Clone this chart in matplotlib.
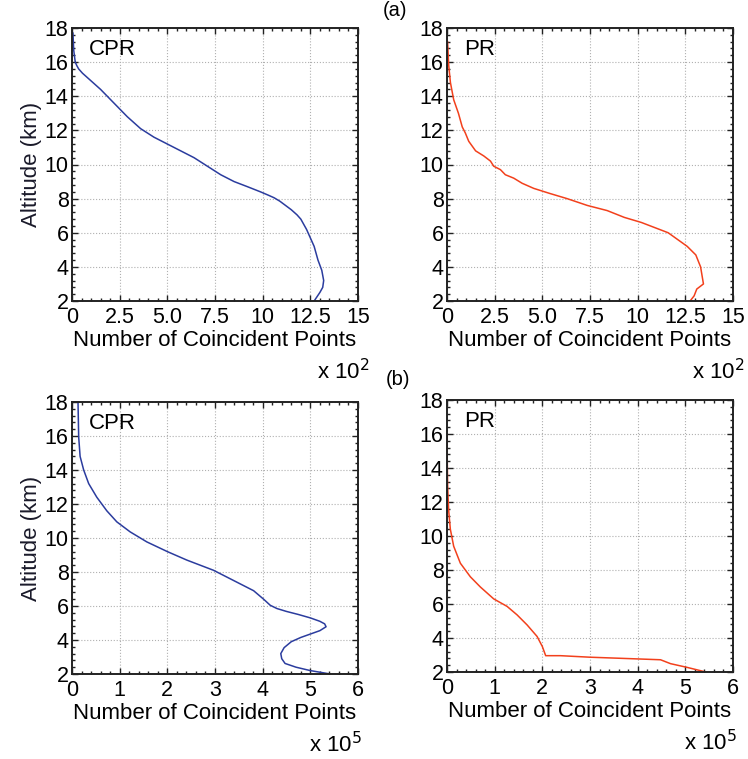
import matplotlib
matplotlib.use("Agg")
import matplotlib.pyplot as plt
from matplotlib.ticker import AutoMinorLocator, MultipleLocator

plt.rcParams['font.family'] = ['Liberation Sans', 'DejaVu Sans']

# ---- data (x in units shown on axis, y altitude km) ----
cpr_a_x = [0.05, 0.09, 0.17, 0.25, 0.35, 0.55, 0.8, 1.1, 1.5, 1.85, 2.2, 2.9, 3.6, 4.3, 5.0,
           5.7, 6.4, 7.1, 7.8, 8.5, 9.2, 9.88, 10.3, 10.6, 10.9, 11.2, 11.5, 11.8, 12.0, 12.15,
           12.3, 12.5, 12.7, 12.9, 13.1, 13.2, 13.15, 13.0, 12.7]
cpr_a_y = [17.7, 16.7, 16.0, 15.8, 15.6, 15.35, 15.1, 14.8, 14.4, 14.0, 13.6, 12.8, 12.1, 11.6, 11.2,
           10.8, 10.4, 9.9, 9.4, 9.0, 8.7, 8.4, 8.2, 8.05, 7.85, 7.6, 7.35, 7.05, 6.8, 6.5,
           6.2, 5.7, 5.2, 4.4, 3.8, 3.2, 2.8, 2.5, 2.0]

pr_a_x = [0.03, 0.09, 0.18, 0.35, 0.6, 0.8, 0.96, 1.14, 1.5, 1.93, 2.28, 2.45, 2.8, 3.06, 3.5,
          3.94, 4.55, 5.4, 6.3, 7.36, 8.4, 9.3, 10.2, 10.9, 11.6, 12.1, 12.6, 13.05, 13.3, 13.45,
          13.1, 12.96, 12.75]
pr_a_y = [17.2, 15.8, 14.8, 13.8, 13.0, 12.2, 11.85, 11.36, 10.8, 10.5, 10.2, 9.9, 9.7, 9.4, 9.2,
          8.9, 8.6, 8.3, 8.0, 7.6, 7.3, 6.9, 6.6, 6.3, 6.0, 5.6, 5.2, 4.7, 4.0, 3.0,
          2.7, 2.3, 2.0]

cpr_b_x = [0.126, 0.14, 0.17, 0.245, 0.35, 0.52, 0.73, 0.94, 1.22, 1.57, 2.0, 2.41, 2.97, 3.39,
           3.81, 4.02, 4.16, 4.3, 4.5, 4.75, 5.0, 5.2, 5.3, 5.33, 5.2, 5.0, 4.8, 4.6, 4.45,
           4.38, 4.4, 4.47, 4.7, 5.0, 5.42]
cpr_b_y = [18.0, 15.95, 14.8, 14.0, 13.2, 12.4, 11.6, 10.95, 10.36, 9.77, 9.2, 8.7, 8.1, 7.5,
           6.9, 6.4, 6.04, 5.85, 5.68, 5.5, 5.3, 5.1, 4.95, 4.78, 4.55, 4.35, 4.15, 3.9, 3.55,
           3.2, 2.9, 2.62, 2.4, 2.2, 2.0]

pr_b_x = [0.0, 0.005, 0.014, 0.035, 0.07, 0.14, 0.28, 0.49, 0.7, 0.98, 1.26, 1.47, 1.68, 1.89,
          2.0, 2.07, 2.38, 3.0, 3.7, 4.48, 4.69, 5.04, 5.43]
pr_b_y = [16.0, 14.5, 12.9, 11.5, 10.4, 9.4, 8.4, 7.6, 7.0, 6.3, 5.86, 5.36, 4.77, 4.09,
          3.5, 2.96, 2.96, 2.87, 2.8, 2.72, 2.49, 2.27, 2.0]

xticks_a = [0, 2.5, 5, 7.5, 10, 12.5, 15]
xticklabels_a = ['0', '2.5', '5.0', '7.5', '10', '12.5', '15']

blue = '#2b3c9e'
red = '#f2401c'

fig = plt.figure(figsize=(7.48, 7.59), dpi=100)

W = 286 / 748
specs = [
    (72 / 748, 1 - 301 / 759, 273 / 759, 15, 'a', cpr_a_x, cpr_a_y, blue, 'CPR', True, '2'),
    (447 / 748, 1 - 301 / 759, 273 / 759, 15, 'a', pr_a_x, pr_a_y, red, 'PR', False, '2'),
    (72 / 748, 1 - 674 / 759, 272 / 759, 6, 'b', cpr_b_x, cpr_b_y, blue, 'CPR', True, '5'),
    (447 / 748, 1 - 672 / 759, 272 / 759, 6, 'b', pr_b_x, pr_b_y, red, 'PR', False, '5'),
]

for (l, b, h, xmax, grp, xs, ys, col, lab, ylab, ex) in specs:
    ax = fig.add_axes([l, b, W, h])
    ax.plot(xs, ys, color=col, lw=1.1, solid_joinstyle='round')
    ax.set_xlim(0, xmax)
    ax.set_ylim(2, 18)
    if grp == 'a':
        ax.set_xticks(xticks_a)
        ax.set_xticklabels(xticklabels_a)
    else:
        ax.xaxis.set_major_locator(MultipleLocator(1))
    ax.yaxis.set_major_locator(MultipleLocator(2))
    ax.xaxis.set_minor_locator(AutoMinorLocator(5))
    ax.yaxis.set_minor_locator(AutoMinorLocator(5))
    ax.grid(True, which='major', color='#b0b0b0', ls=':', lw=0.8)
    ax.tick_params(which='both', direction='in', top=True, right=True, labelsize=15.5,
                   width=1.0, color='#222222')
    ax.tick_params(axis='x', which='major', length=4, pad=4)
    ax.tick_params(axis='y', which='major', length=4, pad=2.5)
    ax.tick_params(which='minor', length=2.5)
    for s in ax.spines.values():
        s.set_linewidth(1.4)
        s.set_color('#222222')
    ax.set_xlabel('Number of Coincident Points', fontsize=16, labelpad=2)
    if ylab:
        ax.set_ylabel('Altitude (km)', fontsize=16, labelpad=2, color='#1a1a2a')
    ax.text(0.9 / 15 * xmax, 16.75, lab, fontsize=16, va='center', ha='left')
    xr = 1.04 if grp == 'a' else 1.015
    ax.text(xr, -0.26, r'x 10$^{%s}$' % ex, transform=ax.transAxes, ha='right', va='center',
            fontsize=16)

fig.text(395 / 748, 1 - 10 / 759, '(a)', fontsize=14.5, ha='center', va='center')
fig.text(398 / 748, 1 - 379 / 759, '(b)', fontsize=14.5, ha='center', va='center')

fig.savefig('out.png', dpi=100)
